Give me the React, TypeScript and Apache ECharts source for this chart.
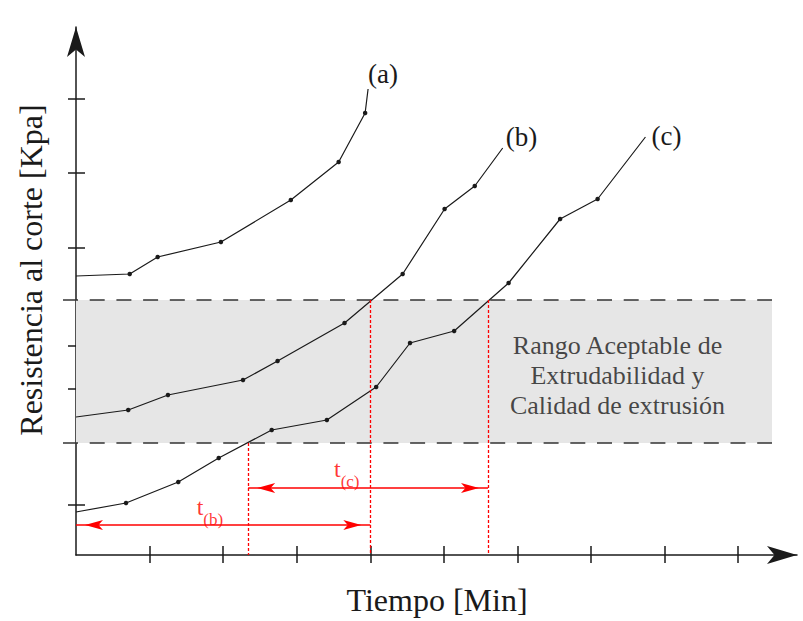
import React, { useEffect, useRef } from 'react';
import * as echarts from 'echarts';

// Time axis: one unit = one tick interval; resistance in arbitrary units
const timeA = [0, 0.73, 1.11, 1.97, 2.92, 3.57, 3.93, 3.97];
const resA = [27.9, 28.1, 29.8, 31.3, 35.5, 39.3, 44.2, 46.6];
const timeB = [0, 0.71, 1.25, 2.27, 2.74, 3.65, 4.44, 5.01, 5.42, 5.8];
const resB = [13.8, 14.5, 16.0, 17.5, 19.4, 23.2, 28.1, 34.6, 36.9, 40.7];
const timeC = [0, 0.68, 1.39, 1.94, 2.66, 3.41, 4.08, 4.54, 5.14, 5.88, 6.58, 7.09, 7.74];
const resC = [4.3, 5.2, 7.3, 9.7, 12.5, 13.5, 16.8, 21.2, 22.4, 27.2, 33.6, 35.6, 41.8];
const curveNames = ['(a)', '(b)', '(c)'];

const xTicks = [1, 2, 3, 4, 5, 6, 7, 8, 9];
const yTicks = [5.0, 16.6, 20.9, 30.7, 38.2, 45.6];

// Acceptable range
const rangeLow = 11.2;
const rangeHigh = 25.5;
const rangeEnd = 9.46;
const rangeText = ['Rango Aceptable de', 'Extrudabilidad y', 'Calidad de extrusión'];
const rangeTextAt = [7.36, 18.0];

// Times
const tStartC = 2.34;
const tEndB = 4.0;
const tEndC = 5.6;
const arrowLevelB = 3.0;
const arrowLevelC = 6.7;
const tLabelB = [1.82, 4.4];
const tLabelC = [3.68, 8.2];

const X_MAX = 9.8;
const Y_MAX = 52.8;
const FONT = 'Liberation Serif';
const INK = '#1a1a1a';
const DASH = '#333333';
const RED = '#ff0000';

function buildCurve(times: number[], values: number[], name: string, distance: number, offset: number[]) {
  const last = times.length - 1;
  return times.map((t, i) => {
    const item: any = { value: [t, values[i]] };
    if (i === 0 || i === last) item.symbolSize = 0;
    if (i === last) {
      item.label = {
        show: true,
        formatter: name,
        position: 'right',
        distance,
        offset,
        fontSize: 27,
        fontFamily: FONT,
        color: INK,
      };
    }
    return item;
  });
}

function axisSet(kind: 'x' | 'y', max: number, ticks: number[]) {
  const common = {
    type: 'value',
    min: 0,
    max,
    position: kind === 'x' ? 'bottom' : 'left',
    axisLabel: { show: false },
    splitLine: { show: false },
  };
  const tickStyle = { color: INK, width: 1.5 };
  const axes: any[] = [
    {
      ...common,
      axisLine: {
        show: true,
        onZero: false,
        symbol: ['none', 'arrow'],
        symbolSize: [13.5, 30],
        lineStyle: { color: INK, width: 1.5 },
      },
      axisTick: { show: true, inside: false, length: 8, customValues: ticks, lineStyle: tickStyle },
    },
    {
      ...common,
      axisLine: { show: false, onZero: false },
      axisTick: { show: true, inside: true, length: 9, customValues: ticks, lineStyle: tickStyle },
    },
  ];
  if (kind === 'y') {
    // first dash of each range boundary starts left of the axis
    axes.push({
      ...common,
      axisLine: { show: false, onZero: false },
      axisTick: {
        show: true,
        inside: false,
        length: 13,
        customValues: [rangeLow, rangeHigh],
        lineStyle: { color: DASH, width: 1.5 },
      },
    });
  }
  return axes;
}

const subRich = (txt: string) => ({
  show: true,
  position: 'inside',
  formatter: `{t|t}{s|${txt}}`,
  rich: {
    t: { fontSize: 24, lineHeight: 26, verticalAlign: 'top', color: RED, fontFamily: FONT },
    s: { fontSize: 17, lineHeight: 33, verticalAlign: 'bottom', color: RED, fontFamily: FONT },
  },
});

export default function App() {
  const ref = useRef<HTMLDivElement>(null);

  useEffect(() => {
    if (!ref.current) return;
    const chart = echarts.init(ref.current, undefined, { renderer: 'svg' });

    const dotted = { color: RED, width: 1.3, type: [3, 2] };
    const solid = { color: RED, width: 1.5, type: 'solid' };
    const arrowEnd = (coord: number[]) => ({
      coord,
      symbol: 'arrow',
      symbolSize: [7.5, 18],
      symbolOffset: [0, 9],
      itemStyle: { color: RED },
    });

    const option: any = {
      animation: false,
      textStyle: { fontFamily: FONT },
      grid: { left: 76, right: 6, top: 27, bottom: 66, containLabel: false, outerBoundsMode: 'none' },
      xAxis: axisSet('x', X_MAX, xTicks),
      yAxis: axisSet('y', Y_MAX, yTicks),
      graphic: [
        {
          type: 'text',
          x: 437,
          y: 600,
          silent: true,
          style: {
            text: 'Tiempo [Min]',
            fontSize: 32,
            fontFamily: FONT,
            fill: INK,
            align: 'center',
            verticalAlign: 'middle',
          },
        },
        {
          type: 'text',
          x: 31,
          y: 270,
          rotation: Math.PI / 2,
          silent: true,
          style: {
            text: 'Resistencia al corte [Kpa]',
            fontSize: 32,
            fontFamily: FONT,
            fill: INK,
            align: 'center',
            verticalAlign: 'middle',
          },
        },
      ],
      series: [
        {
          name: 'Rango aceptable',
          type: 'line',
          data: [],
          silent: true,
          markArea: {
            silent: true,
            label: { show: false },
            itemStyle: { color: '#e6e6e6', opacity: 1 },
            data: [[{ coord: [0, rangeLow] }, { coord: [rangeEnd, rangeHigh] }]],
          },
          markLine: {
            silent: true,
            symbol: ['none', 'none'],
            label: { show: false },
            lineStyle: { color: DASH, width: 1.5, type: [15, 11.7], dashOffset: 13 },
            data: [
              [{ coord: [0, rangeHigh] }, { coord: [rangeEnd, rangeHigh] }],
              [{ coord: [0, rangeLow] }, { coord: [rangeEnd, rangeLow] }],
            ],
          },
        },
        {
          name: 'Tiempos',
          type: 'line',
          data: [],
          silent: true,
          markLine: {
            silent: true,
            symbol: ['none', 'none'],
            label: { show: false },
            data: [
              [{ coord: [tStartC, rangeLow], lineStyle: dotted }, { coord: [tStartC, 0] }],
              [{ coord: [tEndB, rangeHigh], lineStyle: dotted }, { coord: [tEndB, 0] }],
              [{ coord: [tEndC, rangeHigh], lineStyle: dotted }, { coord: [tEndC, 0] }],
              [{ ...arrowEnd([0, arrowLevelB]), lineStyle: solid }, arrowEnd([tEndB, arrowLevelB])],
              [{ ...arrowEnd([tStartC, arrowLevelC]), lineStyle: solid }, arrowEnd([tEndC, arrowLevelC])],
            ],
          },
        },
        ...[
          [timeA, resA, 0, [0, -15]],
          [timeB, resB, 3, [0, -11]],
          [timeC, resC, 6, [0, -1]],
        ].map(([t, v, d, off]: any, k) => ({
          name: curveNames[k],
          type: 'line',
          z: 3,
          silent: true,
          showSymbol: true,
          symbol: 'circle',
          symbolSize: 4.5,
          itemStyle: { color: INK },
          lineStyle: { color: INK, width: 1.2 },
          data: buildCurve(t, v, curveNames[k], d, off),
        })),
        {
          name: 'Anotaciones',
          type: 'scatter',
          silent: true,
          symbolSize: 0,
          z: 4,
          data: [
            {
              value: rangeTextAt,
              label: {
                show: true,
                position: 'inside',
                formatter: rangeText.join('\n'),
                fontSize: 26,
                lineHeight: 30,
                fontFamily: FONT,
                color: INK,
                align: 'center',
              },
            },
            { value: tLabelB, label: subRich('(b)') },
            { value: tLabelC, label: subRich('(c)') },
          ],
        },
      ],
    };

    chart.setOption(option);
    return () => chart.dispose();
  }, []);

  return (
    <div
      ref={ref}
      style={{ position: 'absolute', left: 0, top: 0, width: 803, height: 621, background: '#ffffff' }}
    />
  );
}
